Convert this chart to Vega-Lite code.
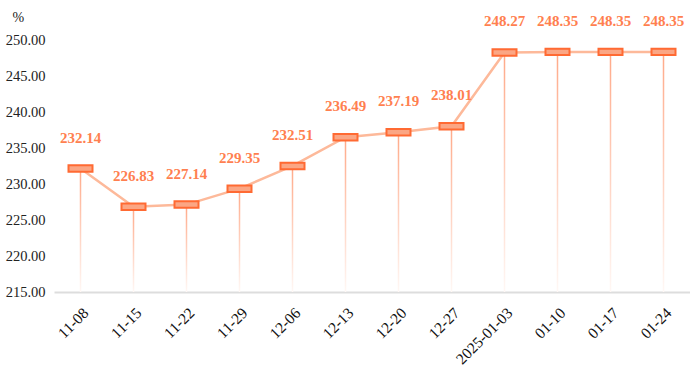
{
  "$schema": "https://vega.github.io/schema/vega-lite/v6.json",
  "autosize": "none",
  "width": 636,
  "height": 252,
  "padding": {"left": 54, "top": 40, "right": 0, "bottom": 74},
  "background": "white",
  "config": {"view": {"stroke": null}},
  "data": {"values": [
    {"date": "11-08", "value": 232.14},
    {"date": "11-15", "value": 226.83},
    {"date": "11-22", "value": 227.14},
    {"date": "11-29", "value": 229.35},
    {"date": "12-06", "value": 232.51},
    {"date": "12-13", "value": 236.49},
    {"date": "12-20", "value": 237.19},
    {"date": "12-27", "value": 238.01},
    {"date": "2025-01-03", "value": 248.27},
    {"date": "01-10", "value": 248.35},
    {"date": "01-17", "value": 248.35},
    {"date": "01-24", "value": 248.35}
  ]},
  "encoding": {
    "x": {"field": "date", "type": "nominal", "sort": null,
      "scale": {"type": "point", "padding": 0.5},
      "axis": {"title": null, "labelAngle": -45, "labelFont": "Liberation Serif", "labelFontSize": 15.5, "labelColor": "#111", "domainColor": "#dddddd", "domainWidth": 2, "ticks": false, "labelPadding": 13}},
    "y": {"field": "value", "type": "quantitative",
      "scale": {"domain": [215, 250], "nice": false, "zero": false},
      "axis": {"values": [215, 220, 225, 230, 235, 240, 245, 250], "format": ".2f", "grid": false, "domain": false, "ticks": false, "labelPadding": 9, "labelFont": "Liberation Serif", "labelFontSize": 14.5, "labelColor": "#222",
        "title": "%", "titleAngle": 0, "titleX": -42, "titleY": -16, "titleAlign": "left", "titleFont": "Liberation Serif", "titleFontSize": 14, "titleFontWeight": "normal", "titleColor": "#222"}}
  },
  "layer": [
    {"mark": {"type": "bar", "width": 1.5, "fill": {"gradient": "linear", "x1": 0, "y1": 0, "x2": 0, "y2": 1, "stops": [{"offset": 0, "color": "#ffa988"}, {"offset": 1, "color": "#fff8f5"}]}},
     "encoding": {"y2": {"datum": 215}}},
    {"mark": {"type": "line", "color": "#fdb99a", "strokeWidth": 2.5}},
    {"mark": {"type": "point", "shape": "M-1,-0.27L1,-0.27L1,0.27L-1,0.27Z", "size": 576, "filled": true, "fill": "#fba684", "stroke": "#ff6a33", "strokeWidth": 2, "opacity": 1}},
    {"mark": {"type": "text", "dy": -31, "font": "Liberation Serif", "fontWeight": "bold", "fontSize": 15, "fill": "#ff7f50"},
     "encoding": {"text": {"field": "value", "type": "quantitative", "format": ".2f"}}}
  ]
}
